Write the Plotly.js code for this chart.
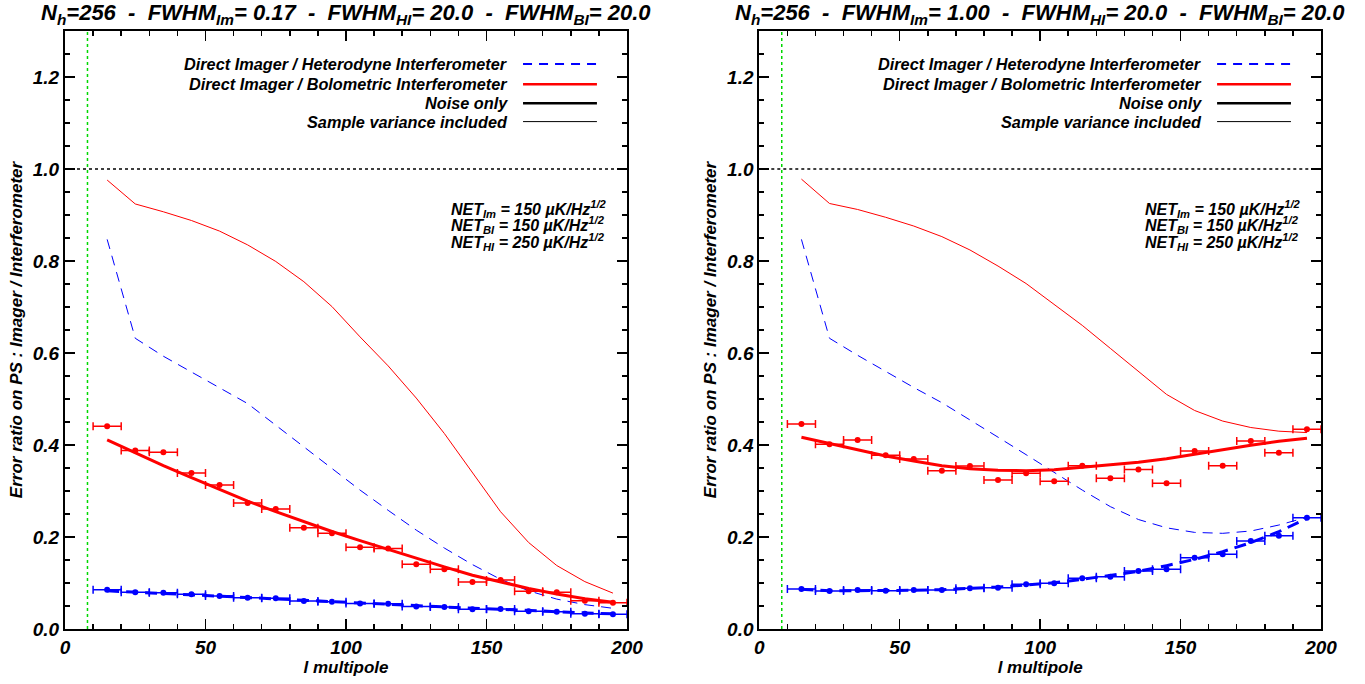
<!DOCTYPE html>
<html>
<head>
<meta charset="utf-8">
<script src="https://cdn.plot.ly/plotly-3.0.1.min.js"></script>
<style>html,body{margin:0;padding:0;background:#fff;}#chart{width:1365px;height:684px;}</style>
</head>
<body>
<div id="chart"></div>
<script>
// ---- data ----
const ell = [15,25,35,45,55,65,75,85,95,105,115,125,135,145,155,165,175,185,195];

// Left panel (FWHM_Im = 0.17)
const leftBIpts   = [0.441,0.388,0.384,0.339,0.313,0.274,0.261,0.220,0.208,0.178,0.175,0.141,0.130,0.102,0.1065,0.082,0.080,0.0615,0.057];
const leftHIpts   = [0.0855,0.0797,0.079,0.0754,0.0717,0.068,0.0667,0.0609,0.0594,0.0556,0.055,0.049,0.048,0.043,0.0435,0.0385,0.0377,0.033,0.032];
const leftBInoise = [0.411,0.383,0.355,0.329,0.303,0.278,0.255,0.233,0.212,0.192,0.173,0.153,0.135,0.117,0.102,0.088,0.076,0.066,0.058];
const leftHInoise = [0.083,0.080,0.077,0.074,0.071,0.068,0.065,0.062,0.059,0.056,0.053,0.050,0.048,0.045,0.043,0.040,0.038,0.035,0.033];
const leftBIsv    = [0.976,0.924,0.907,0.888,0.865,0.835,0.799,0.755,0.701,0.635,0.572,0.502,0.425,0.340,0.255,0.188,0.138,0.103,0.078];
const leftHIsv    = [0.847,0.632,0.593,0.559,0.525,0.490,0.443,0.396,0.350,0.302,0.258,0.215,0.176,0.140,0.108,0.083,0.065,0.053,0.045];

// Right panel (FWHM_Im = 1.00)
const rightBIpts   = [0.4457,0.4015,0.4109,0.378,0.3696,0.344,0.3543,0.3239,0.3384,0.321,0.355,0.3275,0.347,0.3167,0.387,0.355,0.4087,0.3833,0.434];
const rightHIpts   = [0.087,0.0826,0.0848,0.0833,0.0848,0.0848,0.0884,0.0899,0.0971,0.0993,0.1101,0.1138,0.1261,0.1297,0.1551,0.1623,0.1913,0.2029,0.242];
const rightBInoise = [0.4167,0.4036,0.3891,0.3761,0.3652,0.3551,0.3486,0.3449,0.3442,0.3464,0.3514,0.3565,0.3623,0.3703,0.3804,0.3891,0.3993,0.408,0.4145];
const rightHInoise = [0.0862,0.0833,0.0833,0.0833,0.0841,0.0855,0.0877,0.0913,0.0957,0.1007,0.108,0.1159,0.1254,0.1377,0.1514,0.1681,0.1877,0.2116,0.2406];
const rightBIsv    = [0.978,0.925,0.912,0.895,0.876,0.853,0.824,0.789,0.751,0.705,0.660,0.610,0.560,0.510,0.475,0.452,0.438,0.430,0.427];
const rightHIsv    = [0.847,0.632,0.595,0.560,0.525,0.492,0.455,0.417,0.379,0.341,0.302,0.266,0.238,0.220,0.210,0.208,0.213,0.226,0.243];

const binHalfWidth = 5;
const lMin = 8;       // green dotted line
const titles = [
  "N<sub>h</sub>=256  -  FWHM<sub>Im</sub>= 0.17  -  FWHM<sub>HI</sub>= 20.0  -  FWHM<sub>BI</sub>= 20.0",
  "N<sub>h</sub>=256  -  FWHM<sub>Im</sub>= 1.00  -  FWHM<sub>HI</sub>= 20.0  -  FWHM<sub>BI</sub>= 20.0"
];
const legendLabels = ["Direct Imager / Heterodyne Interferometer","Direct Imager / Bolometric Interferometer","Noise only","Sample variance included"];
const netLines = ["NET<sub>Im</sub> = 150 \u00b5K/Hz<sup>1/2</sup>","NET<sub>BI</sub> = 150 \u00b5K/Hz<sup>1/2</sup>","NET<sub>HI</sub> = 250 \u00b5K/Hz<sup>1/2</sup>"];

// ---- styling ----
const FONT = "Liberation Sans Narrow, Liberation Sans, Arial, sans-serif";
const RED = "#ff0000", BLUE = "#0000ff", GREEN = "#00d800";

const traces = [];
function panel(xa, ya, bipts, hipts, binoise, hinoise, bisv, hisv) {
  const ax = {xaxis: xa, yaxis: ya, showlegend: false, hoverinfo: 'skip'};
  traces.push(Object.assign({x: ell, y: bisv, mode: 'lines', line: {color: RED, width: 1}}, ax));
  traces.push(Object.assign({x: ell, y: hisv, mode: 'lines', line: {color: BLUE, width: 1, dash: '10px,7px'}}, ax));
  traces.push(Object.assign({x: ell, y: binoise, mode: 'lines', line: {color: RED, width: 3}}, ax));
  traces.push(Object.assign({x: ell, y: hinoise, mode: 'lines', line: {color: BLUE, width: 3, dash: '12px,7px'}}, ax));
  traces.push(Object.assign({x: ell, y: bipts, mode: 'markers', marker: {color: RED, size: 6},
    error_x: {type: 'constant', value: binHalfWidth, color: RED, thickness: 1.5, width: 4}}, ax));
  traces.push(Object.assign({x: ell, y: hipts, mode: 'markers', marker: {color: BLUE, size: 6},
    error_x: {type: 'constant', value: binHalfWidth, color: BLUE, thickness: 1.5, width: 4}}, ax));
}
panel('x', 'y', leftBIpts, leftHIpts, leftBInoise, leftHInoise, leftBIsv, leftHIsv);
panel('x2', 'y2', rightBIpts, rightHIpts, rightBInoise, rightHInoise, rightBIsv, rightHIsv);

function xaxisDef(domain, anchor) {
  return {
    domain: domain, anchor: anchor, range: [0, 200], dtick: 50, tick0: 0,
    ticks: 'inside', ticklen: 10, tickwidth: 1.5, tickcolor: '#000',
    minor: {dtick: 10, ticks: 'inside', ticklen: 5, tickwidth: 1.5, tickcolor: '#000'},
    showline: true, linewidth: 2, linecolor: '#000', mirror: 'ticks', showgrid: false, zeroline: false,
    tickfont: {family: FONT, size: 19, color: '#000', weight: 'bold', style: 'italic'},
    title: {text: 'l multipole', standoff: 4, font: {family: FONT, size: 17, color: '#000', weight: 'bold', style: 'italic'}}
  };
}
function yaxisDef(domain, anchor) {
  return {
    domain: domain, anchor: anchor, range: [0, 1.3], dtick: 0.2, tick0: 0, tickformat: '.1f',
    ticks: 'inside', ticklen: 10, tickwidth: 1.5, tickcolor: '#000',
    minor: {dtick: 0.05, ticks: 'inside', ticklen: 5, tickwidth: 1.5, tickcolor: '#000'},
    showline: true, linewidth: 2, linecolor: '#000', mirror: 'ticks', showgrid: false, zeroline: false,
    tickfont: {family: FONT, size: 19, color: '#000', weight: 'bold', style: 'italic'},
    title: {text: 'Error ratio on PS : Imager / Interferometer', standoff: 6, font: {family: FONT, size: 17, color: '#000', weight: 'bold', style: 'italic'}}
  };
}

const yDom = [0.0804, 0.9547];
const xDomL = [0.04762, 0.45934];
const xDomR = [0.55626, 0.96777];

const shapes = [], annotations = [];
const legY = [1.228, 1.184, 1.143, 1.103];
const netY = [0.914, 0.878, 0.842];
const legStyles = [
  {color: BLUE, width: 2, dash: '9px,7px'},
  {color: RED, width: 2.5},
  {color: '#000', width: 2.5},
  {color: '#000', width: 1}
];
[['x','y'],['x2','y2']].forEach(function(p, i) {
  // reference lines
  shapes.push({type: 'line', xref: p[0], yref: p[1], x0: 0, x1: 200, y0: 1, y1: 1, line: {color: '#000', width: 1.5, dash: 'dot'}});
  shapes.push({type: 'line', xref: p[0], yref: p[1], x0: lMin, x1: lMin, y0: 0, y1: 1.3, line: {color: GREEN, width: 1.5, dash: 'dot'}});
  // legend
  legendLabels.forEach(function(t, k) {
    annotations.push({xref: p[0], yref: p[1], x: 158.5, y: legY[k], xanchor: 'right', yanchor: 'middle', showarrow: false,
      text: t, font: {family: FONT, size: 16.3, color: '#000', weight: 'bold', style: 'italic'}});
    shapes.push({type: 'line', xref: p[0], yref: p[1], x0: 163, x1: 189.3, y0: legY[k], y1: legY[k], line: legStyles[k]});
  });
  // NET text
  netLines.forEach(function(t, k) {
    annotations.push({xref: p[0], yref: p[1], x: 136.5, y: netY[k], xanchor: 'left', yanchor: 'middle', align: 'left', showarrow: false,
      text: t, font: {family: FONT, size: 16, color: '#000', weight: 'bold', style: 'italic'}});
  });
  // title
  const dom = i === 0 ? xDomL : xDomR;
  annotations.push({xref: 'paper', yref: 'paper', x: (dom[0] + dom[1]) / 2, y: 0.979, xanchor: 'center', yanchor: 'middle', showarrow: false,
    text: titles[i], font: {family: FONT, size: 22, color: '#000', weight: 'bold', style: 'italic'}});
});

const layout = {
  width: 1365, height: 684,
  margin: {l: 0, r: 0, t: 0, b: 0},
  paper_bgcolor: '#fff', plot_bgcolor: '#fff',
  xaxis: xaxisDef(xDomL, 'y'),
  yaxis: yaxisDef(yDom, 'x'),
  xaxis2: xaxisDef(xDomR, 'y2'),
  yaxis2: yaxisDef(yDom, 'x2'),
  shapes: shapes,
  annotations: annotations,
  showlegend: false
};

Plotly.newPlot('chart', traces, layout, {staticPlot: true, displayModeBar: false});
</script>
</body>
</html>
